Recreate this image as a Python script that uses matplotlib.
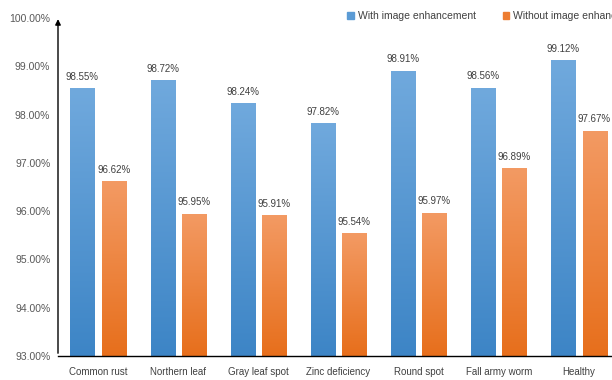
import numpy as np
import matplotlib.pyplot as plt
from matplotlib.colors import LinearSegmentedColormap

plt.rcParams['font.family'] = ['Liberation Sans', 'DejaVu Sans']

# data
categories = ['Common rust', 'Northern leaf\nblight', 'Gray leaf spot', 'Zinc deficiency',
              'Round spot', 'Fall army worm', 'Healthy']
with_enh = [98.55, 98.72, 98.24, 97.82, 98.91, 98.56, 99.12]
without_enh = [96.62, 95.95, 95.91, 95.54, 95.97, 96.89, 97.67]
series_names = ['With image enhancement', 'Without image enhancement']

blue_cmap = LinearSegmentedColormap.from_list('b', ['#3D85C6', '#70A9DD'])
orange_cmap = LinearSegmentedColormap.from_list('o', ['#E76F1C', '#F39A63'])

fig = plt.figure(figsize=(6.12, 3.8), dpi=100)
ax = fig.add_axes([58 / 612, 24 / 380, 561 / 612, 338 / 380])

x = np.arange(len(categories))
width = 0.3
offset = 0.195
ymin, ymax = 93, 100
grad = np.linspace(0, 1, 100).reshape(-1, 1)

def gradient_bars(xs, vals, cmap, label, color):
    bars = ax.bar(xs, [v - ymin for v in vals], width, bottom=ymin, color=color, label=label)
    for b in bars:
        x0, y0 = b.get_x(), b.get_y()
        im = ax.imshow(grad, cmap=cmap, aspect='auto', origin='lower',
                       extent=[x0, x0 + b.get_width(), y0, y0 + b.get_height()], zorder=2)
        im.set_clip_path(b)
        b.set_alpha(0)
    for xi, v in zip(xs, vals):
        ax.text(xi, v + 0.13, f'{v:.2f}%', ha='center', va='bottom', fontsize=7, color='#404040')

gradient_bars(x - offset, with_enh, blue_cmap, series_names[0], '#5B9BD5')
gradient_bars(x + offset, without_enh, orange_cmap, series_names[1], '#ED7D31')

ax.set_xlim(-0.5, len(categories) - 0.5)
ax.set_ylim(ymin, ymax)
ax.set_yticks(np.arange(93, 100.5, 1))
ax.set_yticklabels([f'{v:.2f}%' for v in np.arange(93, 100.5, 1)], fontsize=7.5, color='#595959')
ax.set_xticks(x)
ax.set_xticklabels(categories, fontsize=7, color='#404040', linespacing=1.35)
ax.tick_params(axis='both', length=0)
ax.tick_params(axis='y', pad=5.5)
ax.tick_params(axis='x', pad=8)

for s in ['top', 'right', 'left']:
    ax.spines[s].set_visible(False)
ax.spines['bottom'].set_color('black')
ax.spines['bottom'].set_linewidth(1.0)

# y axis with arrow head
ax.annotate('', xy=(0, 1.005), xytext=(0, 0), xycoords='axes fraction',
            arrowprops=dict(arrowstyle='-|>', color='black', lw=1.0, mutation_scale=8))

# legend squares
handles = [plt.Rectangle((0, 0), 1, 1, color='#5B9BD5'),
           plt.Rectangle((0, 0), 1, 1, color='#ED7D31')]
fig.legend(handles, series_names, loc='upper left', bbox_to_anchor=(338 / 612, 0.995),
           ncol=2, frameon=False, fontsize=7.5, handlelength=0.6, handleheight=0.6,
           handletextpad=0.4, columnspacing=2.6, labelcolor='#404040')

plt.savefig('out.png', dpi=100)
